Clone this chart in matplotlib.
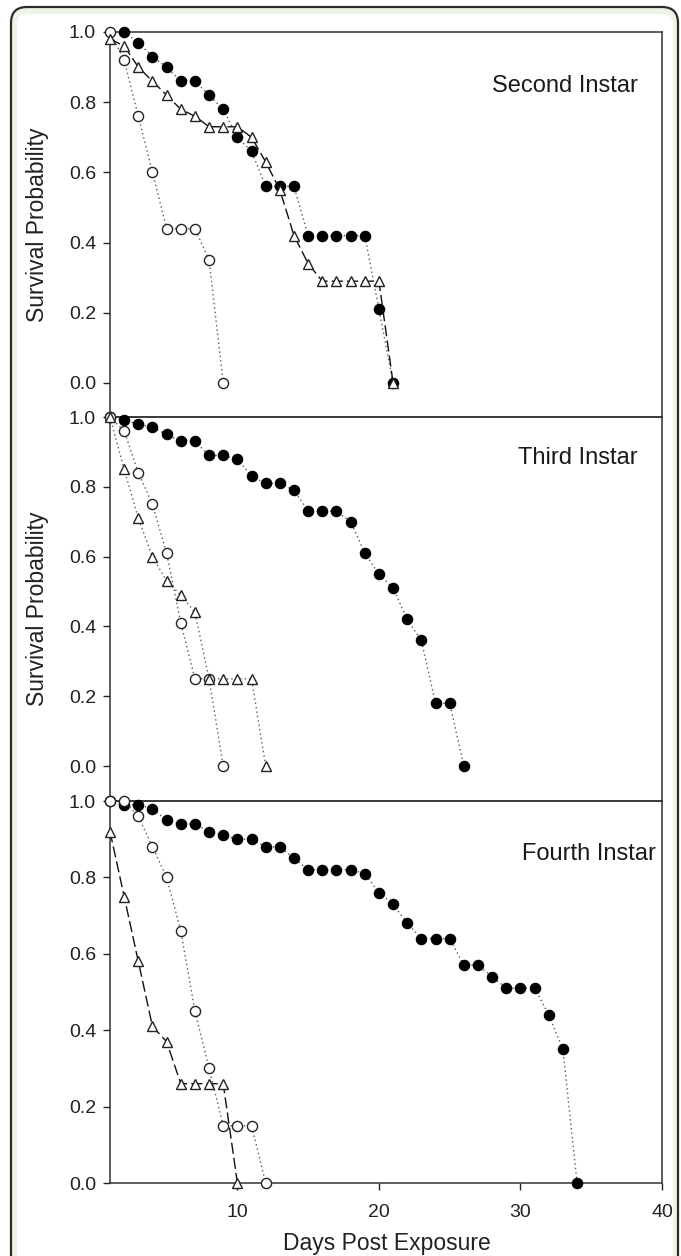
import matplotlib
matplotlib.use("Agg")
import matplotlib.pyplot as plt
from matplotlib.patches import FancyBboxPatch
import numpy as np

plt.rcParams['font.family'] = ['Liberation Sans', 'DejaVu Sans']

# Second instar
d2_fill = np.arange(2, 22)
s2_fill = [1.0, 0.97, 0.93, 0.90, 0.86, 0.86, 0.82, 0.78, 0.70, 0.66,
           0.56, 0.56, 0.56, 0.42, 0.42, 0.42, 0.42, 0.42, 0.21, 0.0]
d2_open = np.arange(1, 10)
s2_open = [1.0, 0.92, 0.76, 0.60, 0.44, 0.44, 0.44, 0.35, 0.0]
d2_tri = np.arange(1, 22)
s2_tri = [0.98, 0.96, 0.90, 0.86, 0.82, 0.78, 0.76, 0.73, 0.73, 0.73, 0.70,
          0.63, 0.55, 0.42, 0.34, 0.29, 0.29, 0.29, 0.29, 0.29, 0.0]

# Third instar
d3_fill = np.arange(1, 27)
s3_fill = [1.0, 0.99, 0.98, 0.97, 0.95, 0.93, 0.93, 0.89, 0.89, 0.88, 0.83,
           0.81, 0.81, 0.79, 0.73, 0.73, 0.73, 0.70, 0.61, 0.55, 0.51, 0.42,
           0.36, 0.18, 0.18, 0.0]
d3_open = np.arange(1, 10)
s3_open = [1.0, 0.96, 0.84, 0.75, 0.61, 0.41, 0.25, 0.25, 0.0]
d3_tri = np.arange(1, 13)
s3_tri = [1.0, 0.85, 0.71, 0.60, 0.53, 0.49, 0.44, 0.25, 0.25, 0.25, 0.25, 0.0]

# Fourth instar
d4_fill = np.arange(1, 35)
s4_fill = [1.0, 0.99, 0.99, 0.98, 0.95, 0.94, 0.94, 0.92, 0.91, 0.90, 0.90,
           0.88, 0.88, 0.85, 0.82, 0.82, 0.82, 0.82, 0.81, 0.76, 0.73, 0.68,
           0.64, 0.64, 0.64, 0.57, 0.57, 0.54, 0.51, 0.51, 0.51, 0.44, 0.35, 0.0]
d4_open = np.arange(1, 13)
s4_open = [1.0, 1.0, 0.96, 0.88, 0.80, 0.66, 0.45, 0.30, 0.15, 0.15, 0.15, 0.0]
d4_tri = np.arange(1, 11)
s4_tri = [0.92, 0.75, 0.58, 0.41, 0.37, 0.26, 0.26, 0.26, 0.26, 0.0]

panels = [
    ("Second Instar", (d2_fill, s2_fill), (d2_open, s2_open), (d2_tri, s2_tri), True),
    ("Third Instar", (d3_fill, s3_fill), (d3_open, s3_open), (d3_tri, s3_tri), False),
    ("Fourth Instar", (d4_fill, s4_fill), (d4_open, s4_open), (d4_tri, s4_tri), True),
]

W, H = 681, 1256
fig = plt.figure(figsize=(W / 100, H / 100), dpi=100)

# rounded frame around the figure
outer = FancyBboxPatch((11 / 100, -0.5), 667 / 100, (H - 7) / 100 + 0.5,
                       boxstyle="round,pad=0,rounding_size=0.16",
                       transform=fig.dpi_scale_trans, facecolor='#edf3e7',
                       edgecolor='#2b2b2b', linewidth=1.6, zorder=-10)
inner = FancyBboxPatch((17 / 100, -0.5), 656 / 100, (H - 14) / 100 + 0.5,
                       boxstyle="round,pad=0,rounding_size=0.1",
                       transform=fig.dpi_scale_trans, facecolor='white',
                       edgecolor='none', zorder=-9)
fig.add_artist(outer)
fig.add_artist(inner)

# axes boxes in pixels: (top, bottom)
boxes = [(32, 417), (417, 801), (801, 1183)]
ylims = [(-0.097, 1.0), (-0.10, 1.0), (0.0, 1.0)]
label_y = [0.846, 0.883, 0.861]
label_x = [38.3, 38.3, 39.6]
left, right = 110, 662

ms = 7.3
dot = dict(color='#5a5a5a', linestyle=(0, (1, 2.2)), linewidth=1.0)
for i, (name, fill, opn, tri, tri_dash) in enumerate(panels):
    top, bot = boxes[i]
    ax = fig.add_axes([left / W, 1 - bot / H, (right - left) / W, (bot - top) / H])
    ax.set_facecolor('none')
    ax.plot(fill[0], fill[1], marker='o', ms=ms, mfc='black', mec='black',
            clip_on=False, zorder=3, **dot)
    ax.plot(opn[0], opn[1], marker='o', ms=ms, mfc='white', mec='#222222',
            mew=1.0, clip_on=False, zorder=4, **dot)
    if tri_dash:
        ax.plot(tri[0], tri[1], marker='^', ms=ms, mfc='white', mec='#222222',
                mew=1.0, color='#111111', linestyle=(0, (8, 3)), linewidth=1.0,
                clip_on=False, zorder=5)
    else:
        ax.plot(tri[0], tri[1], marker='^', ms=ms, mfc='white', mec='#222222',
                mew=1.0, clip_on=False, zorder=5, **dot)

    ax.set_xlim(1, 40)
    ax.set_ylim(*ylims[i])
    ax.set_yticks([0.0, 0.2, 0.4, 0.6, 0.8, 1.0])
    ax.set_yticklabels(['0.0', '0.2', '0.4', '0.6', '0.8', '1.0'])
    ax.tick_params(axis='y', direction='out', length=5, width=1, pad=5,
                   labelsize=14, colors='#222222')
    if i == 2:
        ax.set_xticks([10, 20, 30, 40])
        ax.tick_params(axis='x', direction='out', length=5, width=1, pad=10,
                       labelsize=14, colors='#222222')
    else:
        ax.set_xticks([])
    for sp in ax.spines.values():
        sp.set_color('#333333')
        sp.set_linewidth(1.1)
    ax.text(label_x[i], label_y[i], name, ha='right', va='center',
            fontsize=17, color='#1a1a1a')

fig.text(38 / W, 1 - 225 / H, 'Survival Probability', rotation=90,
         ha='center', va='center', fontsize=16.5, color='#222222')
fig.text(38 / W, 1 - 609 / H, 'Survival Probability', rotation=90,
         ha='center', va='center', fontsize=16.5, color='#222222')
fig.text(387 / W, 1 - 1250 / H, 'Days Post Exposure', ha='center',
         va='baseline', fontsize=16.5, color='#222222')

fig.savefig('out.png', dpi=100)
